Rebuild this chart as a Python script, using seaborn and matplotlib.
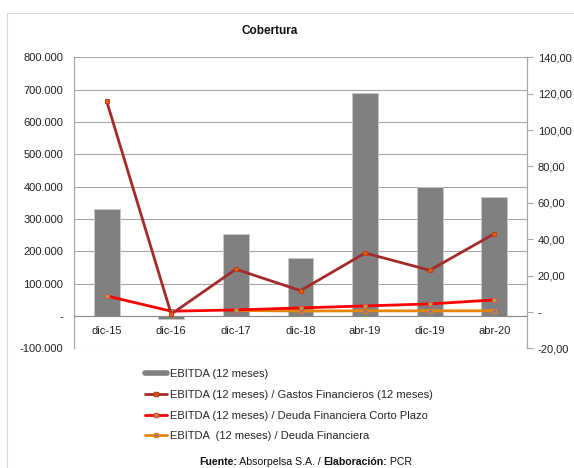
import numpy as np
import pandas as pd
import matplotlib
matplotlib.use("Agg")
import matplotlib.pyplot as plt
from matplotlib.ticker import FuncFormatter, FixedLocator
from matplotlib.lines import Line2D
from matplotlib.patches import Rectangle
import seaborn as sns

categories = ["dic-15", "dic-16", "dic-17", "dic-18", "abr-19", "dic-19", "abr-20"]
ebitda = [330000, -10000, 253000, 179000, 691000, 398000, 367000]
gastos = [116.0, -1.2, 23.5, 11.7, 32.4, 22.9, 43.0]
corto_plazo = [8.8, 0.4, 1.1, 2.2, 3.3, 4.4, 6.6]
deuda = [np.nan, np.nan, 0.8, 0.5, 0.6, 0.6, 0.6]

labels = ["EBITDA (12 meses)",
          "EBITDA (12 meses) / Gastos Financieros (12 meses)",
          "EBITDA (12 meses) / Deuda Financiera Corto Plazo",
          "EBITDA  (12 meses) / Deuda Financiera"]
left_ticks = [-100000, 0, 100000, 200000, 300000, 400000, 500000, 600000, 700000, 800000]
right_ticks = [-20, 0, 20, 40, 60, 80, 100, 120, 140]

sns.set_theme(style="white")
plt.rcParams["font.family"] = ["Liberation Sans", "DejaVu Sans"]

W, H = 574, 468
fig = plt.figure(figsize=(W / 100, H / 100), dpi=100)
ax = fig.add_axes([74.3 / W, 1 - 348.3 / H, (526.7 - 74.3) / W, (348.3 - 57.3) / H])

df = pd.DataFrame({"cat": categories, "ebitda": ebitda, "gastos": gastos,
                   "corto": corto_plazo, "deuda": deuda})

sns.barplot(data=df, x="cat", y="ebitda", color="#808080", width=0.4,
            saturation=1, edgecolor="#C8C8C8", linewidth=0.6, ax=ax, zorder=2)
ax.set_ylim(-100000, 800000)
ax.yaxis.set_major_locator(FixedLocator(left_ticks))
ax.yaxis.set_major_formatter(FuncFormatter(
    lambda v, p: "-" if v == 0 else f"{int(v):,}".replace(",", ".")))
ax.grid(axis="y", color="#A6A6A6", linewidth=0.8, zorder=0)
ax.set_axisbelow(True)
ax.set_xlabel("")
ax.set_ylabel("")

ax2 = ax.twinx()
col_g, col_r, col_o = "#A52A2A", "#FF0000", "#E5860C"
sns.lineplot(data=df, x="cat", y="gastos", color=col_g, linewidth=2.0, marker="s",
             markersize=3.2, markerfacecolor="#E0601A", markeredgecolor="#C04010",
             ax=ax2, zorder=5)
sns.lineplot(data=df, x="cat", y="corto", color=col_r, linewidth=2.0, marker="s",
             markersize=3.2, markerfacecolor="#9AB040", markeredgecolor="#E05050",
             ax=ax2, zorder=4)
sns.lineplot(data=df.dropna(subset=["deuda"]), x="cat", y="deuda", color=col_o,
             linewidth=2.0, marker="s", markersize=3.2, markerfacecolor="#8A70B0",
             markeredgecolor="#E5860C", ax=ax2, zorder=3)
ax2.set_ylim(-20, 140)
ax2.yaxis.set_major_locator(FixedLocator(right_ticks))
ax2.yaxis.set_major_formatter(FuncFormatter(
    lambda v, p: "-" if v == 0 else f"{v:.2f}".replace(".", ",")))
ax2.set_ylabel("")
ax2.set_xlabel("")
ax2.grid(False)
ax.set_xlim(-0.5, len(categories) - 0.5)

for a in (ax, ax2):
    for s in a.spines.values():
        s.set_color("#A6A6A6")
        s.set_linewidth(0.8)
    a.spines["top"].set_visible(False)
ax.spines["bottom"].set_position(("data", 0))
ax.spines["bottom"].set_color("#8C8C8C")
ax2.spines["bottom"].set_visible(False)

ax.tick_params(axis="y", length=0, labelsize=8, pad=8, colors="#222222")
ax.tick_params(axis="x", length=0, labelsize=8, pad=7, colors="#222222")
ax2.tick_params(axis="y", right=True, length=4, width=0.8, color="#A6A6A6",
                direction="out", labelsize=8, pad=4, labelcolor="#222222")

# chart frame
fig.add_artist(Rectangle((7 / W, -0.1), 1.2, 1 - 12.5 / H + 0.1,
                         transform=fig.transFigure, fill=False,
                         edgecolor="#D9D9D9", linewidth=0.8))

fig.text(270 / W, 1 - 31 / H, "Cobertura", ha="center", va="center",
         fontsize=8.5, fontweight="bold", color="#111111")

handles = [
    Line2D([], [], color="#808080", linewidth=4),
    Line2D([], [], color=col_g, linewidth=2, marker="s", markersize=3,
           markerfacecolor="#E0601A", markeredgecolor="#C04010"),
    Line2D([], [], color=col_r, linewidth=2, marker="s", markersize=3,
           markerfacecolor="#9AB040", markeredgecolor="#E05050"),
    Line2D([], [], color=col_o, linewidth=2, marker="s", markersize=3,
           markerfacecolor="#8A70B0", markeredgecolor="#E5860C"),
]
fig.legend(handles, labels, loc="upper left", bbox_to_anchor=(145 / W, 1 - 369 / H),
           frameon=False, fontsize=8, handlelength=2.0, handletextpad=0.25,
           labelspacing=0.97, borderaxespad=0, borderpad=0)

# footer with mixed weights
parts = [("Fuente:", "bold"), (" Absorpelsa S.A. / ", "normal"),
         ("Elaboración:", "bold"), (" PCR", "normal")]
fig.canvas.draw()
r = fig.canvas.get_renderer()
x = 199
for txt, w in parts:
    t = fig.text(x / W, 1 - 462 / H, txt, ha="left", va="center", fontsize=7.6,
                 fontweight=w, color="#111111")
    x += t.get_window_extent(r).width

fig.savefig("out.png", dpi=100)
